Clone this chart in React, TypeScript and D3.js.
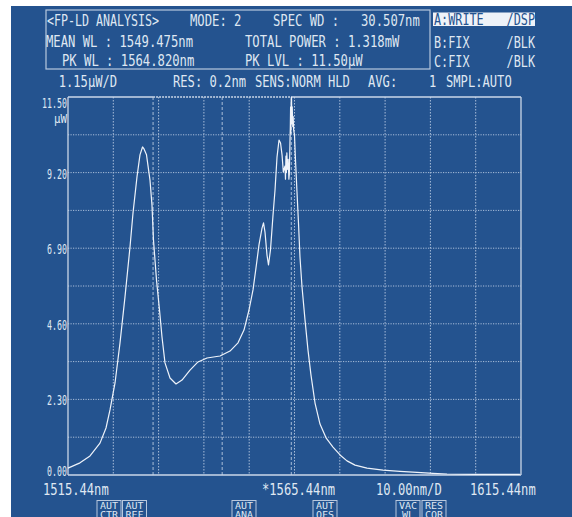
import { useEffect, useRef } from 'react';
import * as d3 from 'd3';

// spectrum trace (nm, µW)
const wavelengths = [
  1515.44, 1518.09, 1520.30, 1522.50, 1523.83, 1524.71, 1525.82, 1526.92, 1528.02, 1529.13,
  1529.79, 1530.67, 1531.33, 1531.89, 1532.22, 1532.77, 1533.54, 1533.98, 1534.31, 1534.98,
  1535.64, 1536.19, 1536.85, 1537.96, 1539.28, 1540.61, 1542.37, 1544.14, 1546.12, 1549.00,
  1551.20, 1552.97, 1554.29, 1555.40, 1556.28, 1556.94, 1557.60, 1558.27, 1558.60, 1558.93,
  1559.37, 1559.70, 1560.14, 1560.70, 1561.14, 1561.58, 1562.02, 1562.36, 1562.69, 1562.97,
  1563.35, 1563.45, 1563.55, 1563.65, 1563.75, 1563.90, 1564.05, 1564.20, 1564.30, 1564.45,
  1564.52, 1564.58, 1564.64, 1564.72, 1564.78, 1564.86, 1564.94, 1565.05, 1565.15, 1565.25,
  1565.44, 1565.66, 1565.99, 1566.32, 1566.65, 1567.10, 1567.76, 1568.42, 1569.08, 1569.97,
  1571.07, 1572.40, 1573.94, 1575.49, 1577.03, 1578.80, 1581.45, 1584.98, 1588.73, 1592.48,
  1596.01, 1599.11, 1605.00, 1615.20,
];
const power = [
  0.21, 0.37, 0.58, 0.97, 1.43, 1.98, 2.80, 4.02, 5.42, 6.94,
  7.97, 9.07, 9.74, 9.98, 9.92, 9.74, 8.97, 8.21, 7.15, 5.93,
  5.02, 4.20, 3.41, 2.95, 2.77, 2.89, 3.19, 3.44, 3.56, 3.62,
  3.77, 4.02, 4.41, 5.02, 5.63, 6.30, 7.00, 7.51, 7.67, 7.39,
  6.69, 6.39, 6.85, 7.91, 8.67, 9.67, 10.19, 10.10, 9.74, 9.22,
  9.40, 9.00, 9.70, 9.20, 9.80, 9.30, 9.60, 9.00, 9.15, 10.20,
  10.60, 11.20, 10.40, 11.40, 11.50, 10.70, 11.20, 10.60, 10.90, 10.50,
  10.34, 9.58, 8.61, 7.67, 6.63, 5.72, 4.72, 3.80, 3.04, 2.19,
  1.55, 1.13, 0.85, 0.61, 0.43, 0.30, 0.21, 0.15, 0.11, 0.08,
  0.05, 0.03, 0.02, 0.02,
];

const yTickValues = [0, 2.3, 4.6, 6.9, 9.2, 11.5];
const yTickLabels = ['0.00', '2.30', '4.60', '6.90', '9.20', '11.50'];
const markerWavelengths = [1534.22, 1549.475, 1564.73];

const headerRows = [
  { y: 26, items: [['<FP-LD ANALYSIS>', 47, 7.0], ['MODE: 2', 190, 7.35], ['SPEC WD :', 273, 7.35], ['30.507nm', 361, 7.35]] },
  { y: 46.5, items: [['MEAN WL : 1549.475nm', 46, 7.35], ['TOTAL POWER : 1.318mW', 245, 7.35]] },
  { y: 65.5, items: [['PK WL : 1564.820nm', 62, 7.35], ['PK LVL : 11.50µW', 245, 7.35]] },
];
const traceRows = [
  { y: 24.5, name: 'A:WRITE', mode: '/DSP', active: true },
  { y: 48, name: 'B:FIX', mode: '/BLK', active: false },
  { y: 66.5, name: 'C:FIX', mode: '/BLK', active: false },
];
const statusItems = [['1.15µW/D', 58.7], ['RES: 0.2nm', 173], ['SENS:NORM HLD', 255], ['AVG:', 368], ['1', 429], ['SMPL:AUTO', 446]];
const bottomItems = [['1515.44nm', 43], ['*1565.44nm', 262], ['10.00nm/D', 376], ['1615.44nm', 470]];
const buttons = [['AUT', 'CTR', 97], ['AUT', 'REF', 122.5], ['AUT', 'ANA', 232], ['AUT', 'OFS', 313], ['VAC', 'WL', 396], ['RES', 'COR', 422]];

const BG = '#24538f';
const FG = '#dfe7f2';
const GRID = '#a9bdd9';
const FONT = '"DejaVu Sans Mono", monospace';

const App = () => {
  const svgRef = useRef(null);

  useEffect(() => {
    const svg = d3.select(svgRef.current);
    svg.selectAll('*').remove();

    const left = 68, right = 521, top = 97, bottom = 475;
    const x = d3.scaleLinear().domain([1515.44, 1615.44]).range([left, right]);
    const y = d3.scaleLinear().domain([0, 11.5]).range([bottom, top]);

    svg.append('rect').attr('x', 11).attr('y', 6).attr('width', 561).attr('height', 511).attr('fill', BG);

    // texto monoespaciado comprimido
    const txt = (s, tx, ty, w = 7.35, size = 16, anchor = 'start', fill = FG) =>
      svg.append('text').attr('x', tx).attr('y', ty)
        .attr('font-family', FONT).attr('font-size', size)
        .attr('text-anchor', anchor).attr('fill', fill)
        .attr('textLength', s.length * w).attr('lengthAdjust', 'spacingAndGlyphs')
        .text(s);

    // header box
    svg.append('rect').attr('x', 46).attr('y', 10).attr('width', 384).attr('height', 59)
      .attr('fill', 'none').attr('stroke', '#b8c8de').attr('stroke-width', 1.2);
    headerRows.forEach(r => r.items.forEach(([s, tx, w]) => txt(s, tx, r.y, w)));

    traceRows.forEach(r => {
      if (r.active) {
        svg.append('rect').attr('x', 433).attr('y', r.y - 12).attr('width', 102).attr('height', 13.5).attr('fill', '#eef2f8');
      }
      txt(r.name, 434, r.y, 7.1, 16, 'start', r.active ? BG : FG);
      txt(r.mode, 535, r.y, 7.1, 16, 'end', r.active ? BG : FG);
    });

    statusItems.forEach(([s, tx]) => txt(s, tx, 87, 7.3));

    // grid
    const g = svg.append('g');
    d3.range(1, 10).forEach(i => {
      const gx = left + (right - left) * i / 10;
      g.append('line').attr('x1', gx).attr('x2', gx).attr('y1', top).attr('y2', bottom)
        .attr('stroke', GRID).attr('stroke-width', 1).attr('stroke-dasharray', '1.5,1.5');
    });
    d3.range(1, 10).forEach(i => {
      const gy = y(1.15 * i);
      g.append('line').attr('x1', left).attr('x2', right).attr('y1', gy).attr('y2', gy)
        .attr('stroke', GRID).attr('stroke-width', 1).attr('stroke-dasharray', '1.2,1.3');
    });
    markerWavelengths.forEach(w => {
      g.append('line').attr('x1', x(w)).attr('x2', x(w)).attr('y1', top).attr('y2', bottom)
        .attr('stroke', GRID).attr('stroke-width', 1).attr('stroke-dasharray', '3,2');
    });

    // frame
    const fr = svg.append('g').attr('stroke', '#cbd7e8').attr('stroke-width', 1.3).attr('fill', 'none');
    fr.append('line').attr('x1', left).attr('x2', left).attr('y1', top).attr('y2', bottom);
    fr.append('line').attr('x1', right).attr('x2', right).attr('y1', top).attr('y2', bottom);
    fr.append('line').attr('x1', left).attr('x2', right).attr('y1', bottom).attr('y2', bottom);
    fr.append('line').attr('x1', left).attr('x2', x(markerWavelengths[0])).attr('y1', top).attr('y2', top);
    fr.append('line').attr('x1', x(markerWavelengths[2])).attr('x2', right).attr('y1', top).attr('y2', top);
    fr.append('line').attr('x1', x(markerWavelengths[0])).attr('x2', x(markerWavelengths[2]))
      .attr('y1', top).attr('y2', top).attr('stroke-dasharray', '2,1');

    // y labels
    yTickValues.forEach((v, i) => {
      let by = y(v) + 6;
      if (i === 0) by = bottom + 1;
      if (i === yTickValues.length - 1) by = top + 11;
      txt(yTickLabels[i], 67, by, 5, 14.5, 'end');
    });
    txt('µW', 67, 123, 6.5, 13, 'end');

    // trace
    const pts = wavelengths.map((w, i) => [w, power[i]]);
    const line = d3.line().x(d => x(d[0])).y(d => y(d[1]));
    svg.append('path').attr('d', line(pts)).attr('fill', 'none')
      .attr('stroke', '#eef3fa').attr('stroke-width', 1.2).attr('stroke-linejoin', 'round');

    bottomItems.forEach(([s, tx]) => txt(s, tx, 495, 7.3));

    // soft keys
    buttons.forEach(([a, b, bx]) => {
      svg.append('rect').attr('x', bx).attr('y', 500.5).attr('width', 24).attr('height', 22)
        .attr('fill', 'none').attr('stroke', '#b8c8de').attr('stroke-width', 1);
      txt(a, bx + 12, 509, 6, 9, 'middle');
      txt(b, bx + 12, 517.5, 6, 9, 'middle');
    });
  }, []);

  return (
    <svg ref={svgRef} width={572} height={517}
      style={{ position: 'absolute', left: 0, top: 0, background: '#fff', display: 'block' }} />
  );
};

export default App;
